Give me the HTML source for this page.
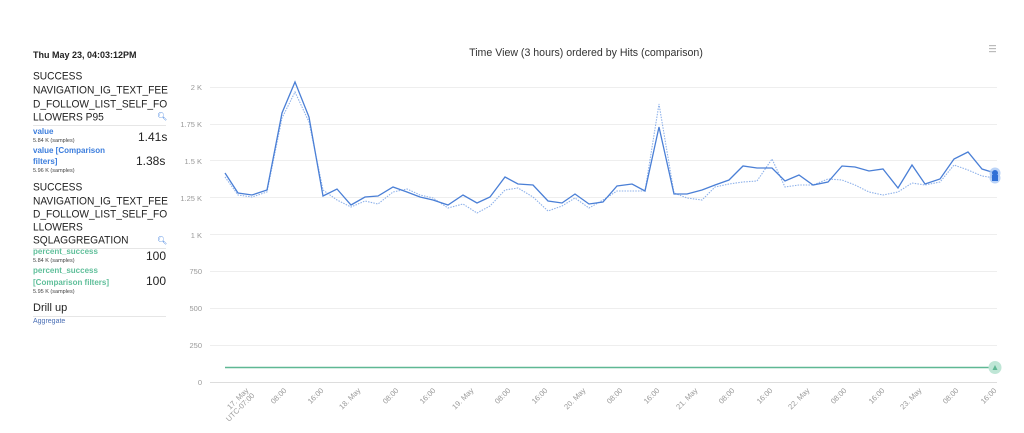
<!DOCTYPE html>
<html><head><meta charset="utf-8"><style>
html,body{margin:0;padding:0;background:#fff;width:1024px;height:433px;overflow:hidden;font-family:"Liberation Sans",sans-serif;}
.t{position:absolute;white-space:nowrap;color:#222;}
.h{font-size:10.2px;line-height:14px;color:#222;transform:scaleY(1.08);transform-origin:left top;}
.b{font-size:8px;font-weight:bold;color:#3b7ddd;line-height:10px;}
.g{font-size:8px;font-weight:bold;color:#5fbf9a;line-height:10px;}
.s{font-size:5.5px;color:#444;line-height:7px;}
.v{font-size:12px;color:#222;line-height:14px;}
.sep{position:absolute;left:33px;width:133px;height:1px;background:#e6e6e6;}
</style></head><body>
<div class="t" style="left:33px;top:50px;font-size:9px;font-weight:bold;">Thu May 23, 04:03:12PM</div>
<div class="t h" style="left:33px;top:70px;">SUCCESS</div>
<div class="t h" style="left:33px;top:84px;">NAVIGATION_IG_TEXT_FEE</div>
<div class="t h" style="left:33px;top:98px;">D_FOLLOW_LIST_SELF_FO</div>
<div class="t h" style="left:33px;top:111px;">LLOWERS P95</div>
<div class="t" style="left:157px;top:112px;font-size:8px;color:#3b7ddd;">&#x1F50D;&#xFE0E;</div>
<div class="sep" style="top:125px"></div>
<div class="t b" style="left:33px;top:127px;">value</div>
<div class="t s" style="left:33px;top:138px;">5.84 K (samples)</div>
<div class="t v" style="left:138px;top:130px;">1.41s</div>
<div class="t b" style="left:33px;top:146px;">value [Comparison</div>
<div class="t b" style="left:33px;top:157px;">filters]</div>
<div class="t s" style="left:33px;top:168px;">5.96 K (samples)</div>
<div class="t v" style="left:136px;top:154px;">1.38s</div>
<div class="t h" style="left:33px;top:181px;">SUCCESS</div>
<div class="t h" style="left:33px;top:195px;">NAVIGATION_IG_TEXT_FEE</div>
<div class="t h" style="left:33px;top:208px;">D_FOLLOW_LIST_SELF_FO</div>
<div class="t h" style="left:33px;top:221px;">LLOWERS</div>
<div class="t h" style="left:33px;top:234px;">SQLAGGREGATION</div>
<div class="t" style="left:157px;top:236px;font-size:8px;color:#3b7ddd;">&#x1F50D;&#xFE0E;</div>
<div class="sep" style="top:248px"></div>
<div class="t g" style="left:33px;top:247px;">percent_success</div>
<div class="t s" style="left:33px;top:258px;">5.84 K (samples)</div>
<div class="t v" style="left:146px;top:249px;">100</div>
<div class="t g" style="left:33px;top:266px;">percent_success</div>
<div class="t g" style="left:33px;top:278px;">[Comparison filters]</div>
<div class="t s" style="left:33px;top:289px;">5.95 K (samples)</div>
<div class="t v" style="left:146px;top:274px;">100</div>
<div class="t" style="left:33px;top:302px;font-size:11px;">Drill up</div>
<div class="sep" style="top:316px"></div>
<div class="t" style="left:33px;top:318px;font-size:7px;color:#4a6fb5;">Aggregate</div>

<svg width="1024" height="433" style="position:absolute;left:0;top:0" xmlns="http://www.w3.org/2000/svg">
<text x="586" y="56" text-anchor="middle" font-size="10.6" fill="#333" font-family="Liberation Sans">Time View (3 hours) ordered by Hits (comparison)</text>
<g fill="#bbb"><rect x="989" y="45" width="7" height="1.2"/><rect x="989" y="48" width="7" height="1.2"/><rect x="989" y="51" width="7" height="1.2"/></g>
<g stroke="#eeeeee" stroke-width="1">
<line x1="210" x2="997" y1="87.5" y2="87.5"/><line x1="210" x2="997" y1="124.5" y2="124.5"/>
<line x1="210" x2="997" y1="160.5" y2="160.5"/><line x1="210" x2="997" y1="197.5" y2="197.5"/>
<line x1="210" x2="997" y1="234.5" y2="234.5"/><line x1="210" x2="997" y1="271.5" y2="271.5"/>
<line x1="210" x2="997" y1="308.5" y2="308.5"/><line x1="210" x2="997" y1="345.5" y2="345.5"/>
<line x1="210" x2="997" y1="382.5" y2="382.5" stroke="#ddd"/>
</g>
<g font-size="7.5" fill="#999" text-anchor="end" font-family="Liberation Sans">
<text x="202" y="90">2 K</text><text x="202" y="127">1.75 K</text><text x="202" y="164">1.5 K</text>
<text x="202" y="201">1.25 K</text><text x="202" y="238">1 K</text><text x="202" y="274">750</text>
<text x="202" y="311">500</text><text x="202" y="348">250</text><text x="202" y="385">0</text>
</g>
<g font-size="7.5" fill="#999" text-anchor="end" font-family="Liberation Sans">
<text transform="translate(249,391) rotate(-45)">17. May</text>
<text transform="translate(255,396) rotate(-45)">UTC-07:00</text>
<text transform="translate(287,391) rotate(-45)">08:00</text>
<text transform="translate(324,391) rotate(-45)">16:00</text>
<text transform="translate(361,391) rotate(-45)">18. May</text>
<text transform="translate(399,391) rotate(-45)">08:00</text>
<text transform="translate(436,391) rotate(-45)">16:00</text>
<text transform="translate(474,391) rotate(-45)">19. May</text>
<text transform="translate(511,391) rotate(-45)">08:00</text>
<text transform="translate(548,391) rotate(-45)">16:00</text>
<text transform="translate(586,391) rotate(-45)">20. May</text>
<text transform="translate(623,391) rotate(-45)">08:00</text>
<text transform="translate(660,391) rotate(-45)">16:00</text>
<text transform="translate(698,391) rotate(-45)">21. May</text>
<text transform="translate(735,391) rotate(-45)">08:00</text>
<text transform="translate(773,391) rotate(-45)">16:00</text>
<text transform="translate(810,391) rotate(-45)">22. May</text>
<text transform="translate(847,391) rotate(-45)">08:00</text>
<text transform="translate(885,391) rotate(-45)">16:00</text>
<text transform="translate(922,391) rotate(-45)">23. May</text>
<text transform="translate(959,391) rotate(-45)">08:00</text>
<text transform="translate(997,391) rotate(-45)">16:00</text>
</g>
<line x1="225" x2="995" y1="367.5" y2="367.5" stroke="#5fb894" stroke-width="1.5"/>
<circle cx="995" cy="367.5" r="6.5" fill="#bfe6d6"/>
<path d="M992.5 370 L995 365 L997.5 370 Z" fill="#5fb894"/>
<polyline fill="none" stroke="#8fb2ea" stroke-width="1.1" stroke-dasharray="1.5,1.2" points="225,177 238,195 252,197 267,192 282,118 295,92 309,122 323,190 337,200 351,207 365,201 378,204 393,192 407,189 420,195 433,198 448,208 463,204 477,213 490,206 505,190 518,188 533,197 548,211 562,206 575,198 589,208 603,200 617,191 632,191 645,191 659,104 674,193 687,198 702,200 715,187 729,184 743,182 757,181 772,159 785,187 799,185 813,185 828,179 842,180 855,185 869,192 883,195 898,192 912,183 925,185 940,182 954,165 968,170 982,176 995,178"/>
<polyline fill="none" stroke="#4a7fd6" stroke-width="1.3" points="225,173 238,193 252,195 267,190 282,113 295,82 309,117 323,196 337,189 351,205 365,197 378,196 393,187 407,192 420,197 433,200 448,205 463,195 477,203 490,197 505,177 518,184 533,185 548,201 562,203 575,194 589,204 603,202 617,186 632,184 645,191 659,127 674,194 687,194 702,190 715,185 729,180 743,166 757,168 772,168 785,181 799,175 813,185 828,182 842,166 855,167 869,171 883,169 898,188 912,165 925,184 940,179 954,159 968,152 982,169 995,173"/>
<circle cx="995" cy="173" r="5.5" fill="#a9c8f5" opacity="0.8"/>
<circle cx="995" cy="178" r="5.5" fill="#a9c8f5" opacity="0.8"/>
<circle cx="995" cy="173" r="3" fill="#2f6fd6"/>
<rect x="992" y="175" width="6" height="6" fill="#2f6fd6"/>
</svg>
</body></html>
